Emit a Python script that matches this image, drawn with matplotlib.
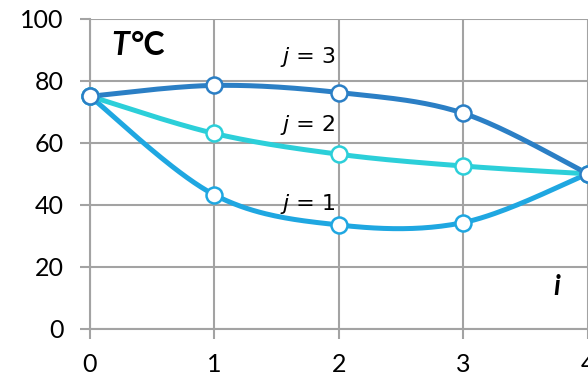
import numpy as np
import matplotlib.pyplot as plt

# node index and temperature per iteration
nodes = [0, 1, 2, 3, 4]
temp_j1 = [75, 43.2, 33.5, 34.3, 50]
temp_j2 = [75, 63, 56.3, 52.5, 50]
temp_j3 = [75, 78.5, 76.2, 69.5, 50]
series_values = [' = 1', ' = 2', ' = 3']
label_y = [40.4, 65.8, 87.6]
colors = ['#1fa7e1', '#2ccfd9', '#2b7fc5']


def smooth(x, y, n=40):
    """Bezier smoothing through every point (spreadsheet style)."""
    pts = np.column_stack([np.asarray(x, float), np.asarray(y, float)])
    padded = np.vstack([pts[0], pts, pts[-1]])
    t = np.linspace(0, 1, n)[:, None]
    out = []
    for i in range(len(pts) - 1):
        p0 = padded[i + 1]
        p3 = padded[i + 2]
        c1 = p0 + (padded[i + 2] - padded[i]) / 6
        c2 = p3 - (padded[i + 3] - padded[i + 1]) / 6
        seg = ((1 - t) ** 3) * p0 + 3 * ((1 - t) ** 2) * t * c1 \
            + 3 * (1 - t) * t ** 2 * c2 + t ** 3 * p3
        out.append(seg if i == 0 else seg[1:])
    out = np.vstack(out)
    return out[:, 0], out[:, 1]


plt.rcParams['font.family'] = ['Lato', 'DejaVu Sans']

fig = plt.figure(figsize=(5.88, 3.82), dpi=100)
ax = fig.add_axes([0.153, 0.139, 0.847, 0.812])

grid_c = '#a3a3a3'
for series, c, val, ly in zip([temp_j1, temp_j2, temp_j3], colors,
                              series_values, label_y):
    sx, sy = smooth(nodes, series)
    ax.plot(sx, sy, color=c, lw=3.6, solid_capstyle='round', zorder=3)
    ax.plot(nodes, series, 'o', ms=11.5, mfc='white', mec=c, mew=1.8,
            zorder=4, clip_on=False)
    # italic j followed by the iteration number
    ax.text(1.55, ly, 'j', fontsize=16, style='italic', va='center',
            ha='left', family=['DejaVu Sans'], zorder=5)
    ax.text(1.6, ly, val, fontsize=16, va='center', ha='left',
            family=['DejaVu Sans'], zorder=5)

ax.text(0.17, 91.4, 'T', fontsize=23, fontweight='bold', style='italic',
        va='center', ha='left')
ax.text(0.325, 91.4, '°C', fontsize=23, fontweight='bold', va='center',
        ha='left')
ax.text(3.75, 13.4, 'i', fontsize=20, fontweight='bold', style='italic',
        va='center', ha='center')

ax.set_xlim(0, 4)
ax.set_ylim(0, 100)
ax.set_xticks(nodes)
ax.set_yticks(range(0, 101, 20))
ax.grid(True, color=grid_c, lw=1.5)
ax.set_axisbelow(True)
for s in ['top', 'right']:
    ax.spines[s].set_visible(False)
for s in ['left', 'bottom']:
    ax.spines[s].set_color(grid_c)
    ax.spines[s].set_linewidth(1.5)
ax.tick_params(axis='both', length=7, width=1.5, color=grid_c,
               labelsize=18)
ax.tick_params(axis='x', pad=10)
ax.tick_params(axis='y', pad=12)

fig.savefig('out.png', dpi=100)
